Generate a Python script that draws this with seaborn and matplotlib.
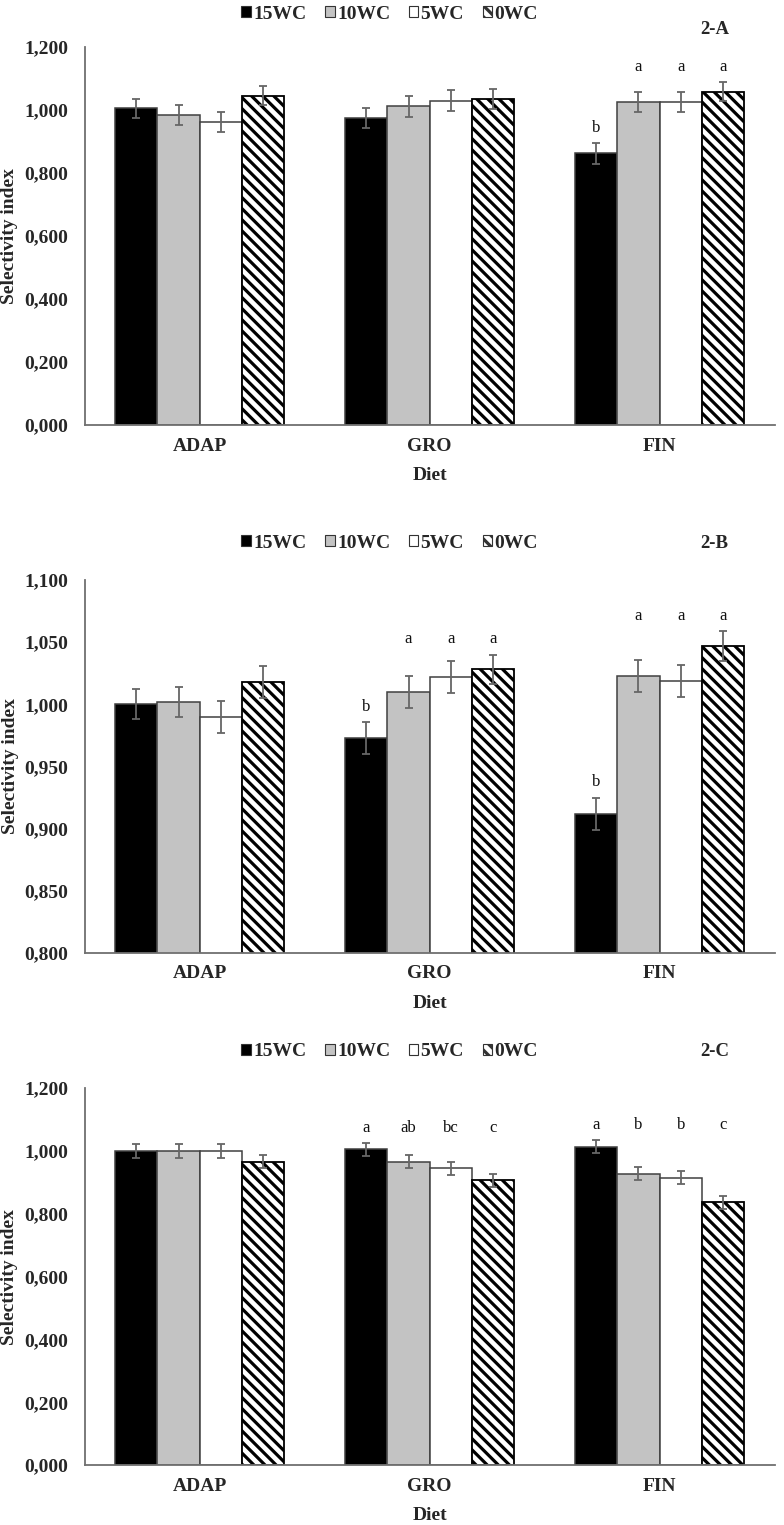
import matplotlib
matplotlib.use("Agg")
import matplotlib.pyplot as plt
import matplotlib.patches as mpatches
from matplotlib.ticker import FixedLocator, FuncFormatter
from collections import Counter
import seaborn as sns
import pandas as pd

diets = ["ADAP", "GRO", "FIN"]
treatments = ["15WC", "10WC", "5WC", "0WC"]

# Panel 2-A values (rows: diets; columns: treatments)
vals_a = [[1.005, 0.983, 0.962, 1.045],
          [0.975, 1.012, 1.030, 1.034],
          [0.862, 1.025, 1.025, 1.058]]
err_a = [[0.030, 0.032, 0.032, 0.030],
         [0.032, 0.033, 0.032, 0.032],
         [0.032, 0.033, 0.032, 0.030]]
lets_a = [["", "", "", ""], ["", "", "", ""], ["b", "a", "a", "a"]]

# Panel 2-B values
vals_b = [[1.000, 1.002, 0.990, 1.018],
          [0.973, 1.010, 1.022, 1.028],
          [0.912, 1.023, 1.019, 1.047]]
err_b = [[0.012, 0.012, 0.013, 0.013],
         [0.013, 0.013, 0.013, 0.012],
         [0.013, 0.013, 0.013, 0.012]]
lets_b = [["", "", "", ""], ["b", "a", "a", "a"], ["b", "a", "a", "a"]]

# Panel 2-C values
vals_c = [[1.000, 1.000, 1.000, 0.966],
          [1.005, 0.966, 0.945, 0.907],
          [1.013, 0.928, 0.915, 0.836]]
err_c = [[0.021, 0.021, 0.021, 0.021],
         [0.021, 0.021, 0.021, 0.021],
         [0.021, 0.021, 0.021, 0.021]]
lets_c = [["", "", "", ""], ["a", "ab", "bc", "c"], ["a", "b", "b", "c"]]

panel_labels = ["2-A", "2-B", "2-C"]
ylims = [(0.0, 1.2), (0.8, 1.1), (0.0, 1.2)]
yticks = [[0, 0.2, 0.4, 0.6, 0.8, 1.0, 1.2],
          [0.80, 0.85, 0.90, 0.95, 1.00, 1.05, 1.10],
          [0, 0.2, 0.4, 0.6, 0.8, 1.0, 1.2]]
align_all_letters = [False, False, True]

colors = ["#000000", "#c3c3c3", "#ffffff", "#ffffff"]
HATCH = "\\\\\\"
FS = 14

sns.set_theme(style="white")
plt.rcParams["font.family"] = ["Liberation Serif", "DejaVu Serif"]
plt.rcParams["hatch.linewidth"] = 2.3
plt.rcParams["hatch.color"] = "black"

fig = plt.figure(figsize=(7.84, 15.25), dpi=100)
positions = [(0.108, 0.7213, 0.880, 0.2479),
             (0.108, 0.3751, 0.880, 0.2446),
             (0.108, 0.0393, 0.880, 0.2472)]
legend_y = [1.087, 1.099, 1.097]
label_y = [1.045, 1.099, 1.097]

panels = [(vals_a, err_a, lets_a), (vals_b, err_b, lets_b), (vals_c, err_c, lets_c)]

for i, ((vals, errs, lets), pos) in enumerate(zip(panels, positions)):
    ax = fig.add_axes(pos)
    rows = []
    for d, diet in enumerate(diets):
        for t, tr in enumerate(treatments):
            rows.append({"Diet": diet, "Treatment": tr, "Value": vals[d][t],
                         "Err": errs[d][t], "Letter": lets[d][t]})
    df = pd.DataFrame(rows)
    sns.barplot(data=df, x="Diet", y="Value", hue="Treatment", order=diets,
                hue_order=treatments, palette=colors, edgecolor="#404040",
                linewidth=1.1, width=0.735, errorbar=None, legend=False,
                ax=ax, saturation=1)
    containers = list(ax.containers)
    centers = {}
    for t, cont in enumerate(containers):
        for d, bar in enumerate(cont):
            if treatments[t] == "0WC":
                bar.set_hatch(HATCH)
                bar.set_edgecolor("black")
                bar.set_linewidth(1.3)
            centers[(d, t)] = bar.get_x() + bar.get_width() / 2
            ax.errorbar(centers[(d, t)], vals[d][t], yerr=errs[d][t], fmt="none",
                        ecolor="#666666", elinewidth=1.3, capsize=3, capthick=1.3,
                        zorder=5)
    # significance letters
    for d in range(len(diets)):
        group = [t for t in range(len(treatments)) if lets[d][t]]
        if not group:
            continue
        tops = {t: vals[d][t] + errs[d][t] for t in group}
        common = Counter(lets[d][t] for t in group).most_common(1)[0][0]
        for t in group:
            if align_all_letters[i]:
                base = max(tops.values())
            elif lets[d][t] == common:
                base = max(tops[u] for u in group if lets[d][u] == common)
            else:
                base = tops[t]
            ax.annotate(lets[d][t], (centers[(d, t)], base), xytext=(0, 8),
                        textcoords="offset points", ha="center", va="baseline",
                        fontsize=12, color="#111111")
    ax.set_ylim(*ylims[i])
    ax.set_xlim(-0.5, 2.5)
    ax.yaxis.set_major_locator(FixedLocator(yticks[i]))
    ax.yaxis.set_major_formatter(FuncFormatter(lambda v, p: f"{v:.3f}".replace(".", ",")))
    for lab in ax.get_yticklabels() + ax.get_xticklabels():
        lab.set_fontweight("bold")
        lab.set_fontsize(FS)
    ax.tick_params(axis="both", length=0)
    ax.tick_params(axis="y", pad=12)
    ax.tick_params(axis="x", pad=9)
    for s in ["top", "right"]:
        ax.spines[s].set_visible(False)
    for s in ["left", "bottom"]:
        ax.spines[s].set_color("#707070")
        ax.spines[s].set_linewidth(1.3)
    ax.set_ylabel("Selectivity index", fontsize=FS, fontweight="bold", labelpad=4)
    ax.set_xlabel("Diet", fontsize=FS, fontweight="bold", labelpad=9)
    ax.grid(False)

    handles = []
    for t, tr in enumerate(treatments):
        h = mpatches.Patch(facecolor=colors[t], edgecolor="#333333", linewidth=0.8,
                           hatch=(HATCH if tr == "0WC" else None), label=tr)
        handles.append(h)
    ax.legend(handles=handles, ncol=4, loc="center",
              bbox_to_anchor=(0.442, legend_y[i]), frameon=False,
              handlelength=0.5, handleheight=0.5, handletextpad=0.12,
              columnspacing=0.95, borderpad=0.0,
              prop={"weight": "bold", "size": FS, "family": "Liberation Serif"})
    ax.text(0.913, label_y[i], panel_labels[i], transform=ax.transAxes,
            ha="center", va="center", fontsize=FS - 0.5, fontweight="bold")

fig.savefig("out.png", dpi=100)
